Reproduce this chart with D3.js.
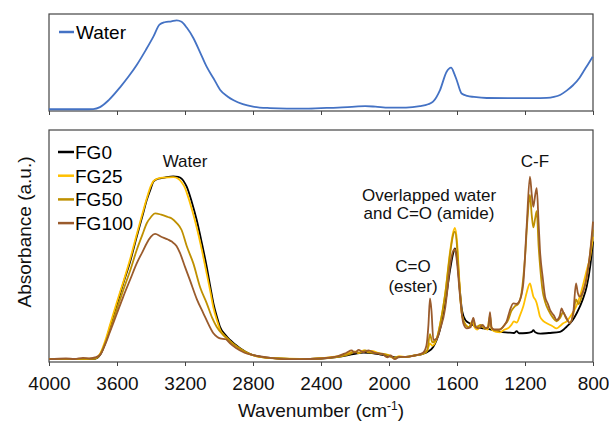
<!DOCTYPE html>
<html>
    <head>
        <meta charset="utf-8">
        <script src="https://cdnjs.cloudflare.com/ajax/libs/d3/7.8.5/d3.min.js"></script>
        <style>
            body { margin: 0; background: #fff; }
            svg { font-family: "Liberation Sans", Arial, sans-serif; }
        </style>
    </head>
    <body>
        <svg width="609" height="423"></svg>
        <script>
            // x ticks (wavenumber, cm-1)
            let xTicks = [4000, 3600, 3200, 2800, 2400, 2000, 1600, 1200, 800];

            // top panel: water reference spectrum  [wavenumber, absorbance]
            let water = [[4000,0.018],[3800,0.018],[3740,0.02],[3700,0.04],[3650,0.11],[3582,0.244],[3530,0.36],[3484,0.474],[3430,0.63],[3386,0.766],[3350,0.89],[3320,0.915],[3280,0.925],[3249,0.935],[3220,0.92],[3190,0.86],[3151,0.753],[3110,0.6],[3072,0.454],[3030,0.33],[2994,0.22],[2950,0.15],[2914,0.11],[2860,0.07],[2800,0.045],[2700,0.03],[2600,0.025],[2500,0.025],[2400,0.03],[2300,0.035],[2200,0.045],[2140,0.05],[2080,0.045],[2000,0.035],[1900,0.035],[1818,0.05],[1770,0.07],[1741,0.096],[1700,0.216],[1661,0.405],[1635,0.447],[1615,0.38],[1602,0.32],[1573,0.18],[1540,0.155],[1500,0.145],[1425,0.134],[1300,0.132],[1150,0.132],[1072,0.135],[1030,0.145],[994,0.165],[955,0.21],[916,0.268],[880,0.34],[857,0.405],[830,0.48],[802,0.56]];

            // bottom panel series
            let fg0 = [[4000,0.012],[3800,0.012],[3730,0.014],[3700,0.03],[3670,0.08],[3641,0.152],[3600,0.25],[3563,0.339],[3520,0.44],[3484,0.54],[3450,0.63],[3425,0.698],[3400,0.75],[3386,0.777],[3357,0.79],[3320,0.795],[3269,0.8],[3240,0.798],[3220,0.79],[3200,0.77],[3190,0.756],[3160,0.69],[3131,0.612],[3100,0.51],[3072,0.41],[3050,0.32],[3033,0.254],[3010,0.19],[2994,0.152],[2960,0.115],[2935,0.095],[2876,0.059],[2820,0.035],[2759,0.023],[2650,0.015],[2524,0.012],[2400,0.015],[2300,0.022],[2200,0.035],[2150,0.04],[2100,0.038],[2050,0.032],[2000,0.025],[1960,0.02],[1900,0.022],[1850,0.028],[1800,0.035],[1770,0.045],[1740,0.065],[1700,0.14],[1670,0.25],[1640,0.4],[1622,0.47],[1612,0.49],[1600,0.45],[1582,0.3],[1570,0.22],[1550,0.18],[1520,0.165],[1480,0.15],[1445,0.145],[1400,0.14],[1347,0.13],[1300,0.127],[1265,0.125],[1249,0.133],[1235,0.124],[1190,0.125],[1160,0.13],[1151,0.137],[1140,0.128],[1110,0.122],[1060,0.125],[994,0.13],[955,0.152],[920,0.18],[896,0.21],[860,0.27],[837,0.325],[815,0.42],[800,0.52]];

            let fg25 = [[4000,0.012],[3800,0.013],[3730,0.016],[3700,0.035],[3670,0.09],[3641,0.16],[3600,0.26],[3563,0.345],[3520,0.45],[3484,0.55],[3450,0.64],[3425,0.705],[3400,0.76],[3386,0.78],[3357,0.792],[3320,0.795],[3269,0.797],[3240,0.79],[3220,0.775],[3200,0.75],[3190,0.73],[3160,0.66],[3131,0.58],[3100,0.48],[3072,0.38],[3050,0.3],[3033,0.235],[3010,0.175],[2994,0.14],[2960,0.108],[2935,0.09],[2876,0.056],[2820,0.034],[2759,0.022],[2650,0.015],[2524,0.013],[2400,0.017],[2300,0.025],[2250,0.035],[2200,0.045],[2180,0.038],[2150,0.05],[2120,0.042],[2100,0.048],[2050,0.035],[2000,0.03],[1970,0.015],[1940,0.025],[1900,0.022],[1850,0.028],[1800,0.036],[1775,0.05],[1759,0.08],[1745,0.07],[1720,0.1],[1700,0.16],[1670,0.29],[1640,0.48],[1622,0.56],[1612,0.578],[1600,0.52],[1590,0.4],[1582,0.3],[1570,0.2],[1550,0.16],[1530,0.15],[1510,0.175],[1500,0.155],[1480,0.14],[1460,0.155],[1445,0.15],[1420,0.14],[1406,0.17],[1395,0.14],[1370,0.13],[1347,0.128],[1320,0.14],[1300,0.145],[1280,0.16],[1265,0.175],[1249,0.17],[1230,0.2],[1210,0.24],[1190,0.3],[1171,0.339],[1160,0.31],[1151,0.282],[1140,0.27],[1131,0.253],[1120,0.22],[1112,0.196],[1090,0.175],[1072,0.167],[1040,0.155],[1014,0.145],[994,0.155],[975,0.167],[955,0.175],[930,0.2],[900,0.238],[870,0.3],[837,0.396],[815,0.46],[800,0.54]];

            let fg50 = [[4000,0.012],[3800,0.013],[3730,0.015],[3700,0.032],[3670,0.08],[3641,0.138],[3600,0.23],[3563,0.31],[3520,0.4],[3484,0.483],[3450,0.55],[3425,0.598],[3400,0.625],[3376,0.641],[3340,0.635],[3300,0.625],[3278,0.619],[3250,0.6],[3220,0.569],[3190,0.5],[3151,0.425],[3110,0.32],[3072,0.253],[3040,0.19],[3014,0.152],[2980,0.12],[2955,0.102],[2930,0.085],[2876,0.058],[2820,0.035],[2759,0.022],[2650,0.015],[2524,0.012],[2400,0.015],[2300,0.022],[2230,0.035],[2200,0.045],[2170,0.04],[2140,0.05],[2110,0.04],[2060,0.038],[2000,0.028],[1975,0.018],[1950,0.022],[1900,0.022],[1850,0.028],[1800,0.036],[1775,0.05],[1759,0.12],[1745,0.085],[1720,0.1],[1700,0.16],[1670,0.29],[1640,0.47],[1622,0.55],[1612,0.562],[1600,0.5],[1590,0.38],[1582,0.29],[1570,0.2],[1550,0.16],[1530,0.15],[1504,0.18],[1490,0.15],[1460,0.16],[1440,0.145],[1420,0.15],[1406,0.2],[1395,0.145],[1370,0.135],[1347,0.14],[1320,0.16],[1300,0.18],[1280,0.22],[1260,0.24],[1240,0.25],[1220,0.3],[1200,0.45],[1185,0.62],[1171,0.72],[1160,0.63],[1151,0.58],[1140,0.62],[1131,0.65],[1120,0.5],[1112,0.42],[1095,0.3],[1082,0.26],[1060,0.22],[1035,0.19],[1014,0.175],[994,0.19],[975,0.215],[960,0.19],[935,0.17],[915,0.21],[900,0.27],[885,0.25],[860,0.3],[837,0.36],[815,0.48],[800,0.57]];

            let fg100 = [[4000,0.012],[3900,0.015],[3850,0.013],[3800,0.018],[3760,0.015],[3730,0.02],[3700,0.03],[3670,0.075],[3641,0.131],[3600,0.21],[3563,0.282],[3520,0.36],[3484,0.425],[3450,0.475],[3425,0.512],[3400,0.54],[3376,0.552],[3340,0.54],[3300,0.528],[3278,0.519],[3250,0.5],[3229,0.469],[3200,0.41],[3171,0.353],[3130,0.27],[3092,0.21],[3060,0.16],[3033,0.124],[3010,0.108],[2994,0.102],[2960,0.098],[2935,0.08],[2900,0.06],[2850,0.04],[2800,0.03],[2700,0.018],[2600,0.012],[2524,0.012],[2400,0.015],[2300,0.025],[2250,0.04],[2220,0.05],[2200,0.04],[2180,0.052],[2150,0.042],[2120,0.05],[2080,0.038],[2040,0.035],[2010,0.02],[1990,0.028],[1965,0.012],[1940,0.022],[1900,0.022],[1850,0.028],[1800,0.04],[1780,0.07],[1768,0.16],[1759,0.274],[1750,0.22],[1739,0.095],[1720,0.1],[1700,0.14],[1670,0.23],[1661,0.282],[1640,0.42],[1622,0.48],[1612,0.486],[1600,0.43],[1582,0.282],[1563,0.167],[1543,0.145],[1520,0.15],[1504,0.19],[1490,0.15],[1470,0.145],[1450,0.16],[1430,0.145],[1415,0.15],[1406,0.215],[1398,0.15],[1380,0.14],[1347,0.14],[1320,0.16],[1308,0.175],[1290,0.22],[1269,0.253],[1250,0.25],[1230,0.267],[1210,0.339],[1190,0.587],[1171,0.799],[1160,0.72],[1151,0.669],[1140,0.72],[1131,0.749],[1120,0.6],[1112,0.483],[1095,0.36],[1082,0.282],[1065,0.25],[1053,0.225],[1030,0.2],[1014,0.181],[995,0.2],[985,0.231],[975,0.215],[960,0.195],[935,0.167],[915,0.22],[900,0.339],[890,0.3],[877,0.282],[860,0.3],[837,0.368],[820,0.45],[800,0.605]];

            let seriesNames = ["FG0", "FG25", "FG50", "FG100"];
            let seriesData = [fg0, fg25, fg50, fg100];
            let seriesColors = ["#000000", "#FFC000", "#BF9000", "#9A5B2C"];

            var svg = d3.select("svg");
            var left = 49, right = 593;

            var x = d3.scaleLinear().domain([4000, 800]).range([left, right]);
            var yTop = d3.scaleLinear().domain([0, 1]).range([111, 14]);
            var yBot = d3.scaleLinear().domain([0, 1]).range([362, 130]);

            // ---- top panel ----
            svg.append("rect")
                .attr("x", left).attr("y", 14)
                .attr("width", right - left).attr("height", 97)
                .style("fill", "none").style("stroke", "#444").style("stroke-width", 1.2);

            svg.append("g")
                .attr("transform", "translate(0,111)")
                .call(d3.axisBottom(x).tickValues(xTicks).tickSize(4).tickFormat(""))
                .call(g => g.select(".domain").remove())
                .call(g => g.selectAll("line").style("stroke", "#444"));

            var lineTop = d3.line()
                .x(d => x(d[0])).y(d => yTop(d[1]))
                .curve(d3.curveMonotoneX);

            svg.append("path")
                .datum(water)
                .attr("d", lineTop)
                .style("fill", "none").style("stroke", "#4472C4").style("stroke-width", 1.8);

            svg.append("line")
                .attr("x1", 59).attr("x2", 74).attr("y1", 32).attr("y2", 32)
                .style("stroke", "#4472C4").style("stroke-width", 2.5);
            svg.append("text")
                .attr("x", 76).attr("y", 39)
                .style("font-size", "19px")
                .text("Water");

            // ---- bottom panel ----
            svg.append("rect")
                .attr("x", left).attr("y", 130)
                .attr("width", right - left).attr("height", 232)
                .style("fill", "none").style("stroke", "#444").style("stroke-width", 1.2);

            var xAxis = svg.append("g")
                .attr("transform", "translate(0,362)")
                .call(d3.axisBottom(x).tickValues(xTicks).tickSize(4).tickPadding(11).tickFormat(d3.format("d")));
            xAxis.select(".domain").remove();
            xAxis.selectAll("line").style("stroke", "#444");
            xAxis.selectAll("text")
                .style("font-size", "19px")
                .style("font-family", "'Liberation Sans', Arial, sans-serif")
                .style("fill", "#111");

            var lineBot = d3.line()
                .x(d => x(d[0])).y(d => yBot(d[1]))
                .curve(d3.curveMonotoneX);

            svg.append("g")
                .selectAll("path")
                .data(seriesData)
                .enter()
                .append("path")
                .attr("d", lineBot)
                .style("fill", "none")
                .style("stroke", (d, i) => seriesColors[i])
                .style("stroke-width", 1.8)
                .style("stroke-linejoin", "round");

            var legend = svg.append("g")
                .selectAll("g")
                .data(seriesNames)
                .enter()
                .append("g")
                .attr("transform", (d, i) => "translate(0," + (152 + i * 23.7) + ")");
            legend.append("line")
                .attr("x1", 58).attr("x2", 74).attr("y1", 0).attr("y2", 0)
                .style("stroke", (d, i) => seriesColors[i])
                .style("stroke-width", 2.5);
            legend.append("text")
                .attr("x", 75).attr("y", 7)
                .style("font-size", "19px")
                .text(d => d);

            // annotations
            var notes = [
                ["Water", 185, 167],
                ["C-F", 535, 167],
                ["Overlapped water", 429, 201],
                ["and C=O (amide)", 429, 219],
                ["C=O", 413, 272],
                ["(ester)", 413, 292]
            ];
            svg.append("g")
                .selectAll("text")
                .data(notes)
                .enter()
                .append("text")
                .attr("x", d => d[1]).attr("y", d => d[2])
                .attr("text-anchor", "middle")
                .style("font-size", "17px")
                .style("fill", "#111")
                .text(d => d[0]);

            // axis titles
            var xt = svg.append("text")
                .attr("x", 321).attr("y", 417)
                .attr("text-anchor", "middle")
                .style("font-size", "19px")
                .style("fill", "#111");
            xt.append("tspan").text("Wavenumber (cm");
            xt.append("tspan").attr("dy", -7).style("font-size", "12px").text("-1");
            xt.append("tspan").attr("dy", 7).text(")");

            svg.append("text")
                .attr("transform", "translate(31,232) rotate(-90)")
                .attr("text-anchor", "middle")
                .style("font-size", "19px")
                .style("fill", "#111")
                .text("Absorbance (a.u.)");
        </script>
    </body>
</html>
